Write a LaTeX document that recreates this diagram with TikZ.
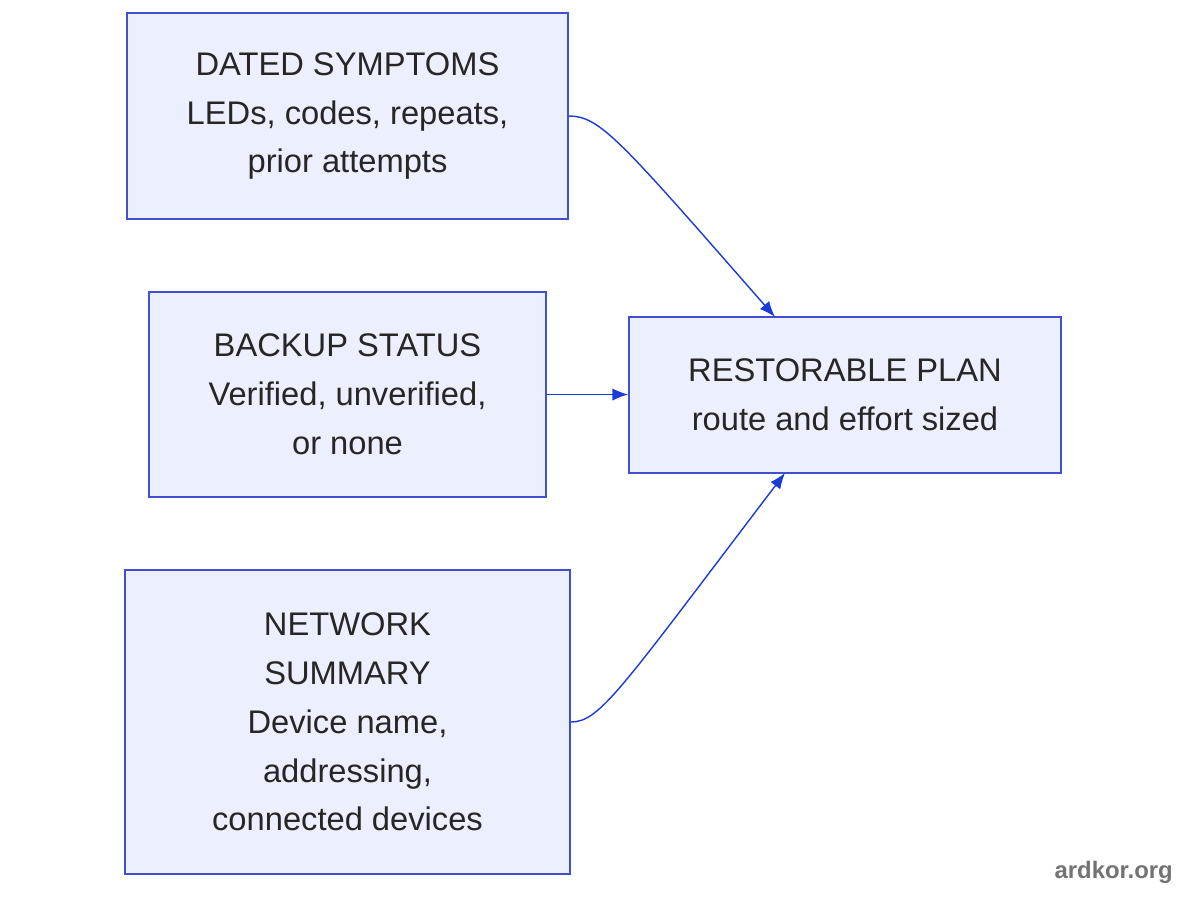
\documentclass[tikz,border=0pt]{standalone}
\usepackage{fontspec}
\setmainfont{Liberation Sans}
\usetikzlibrary{arrows.meta}
\definecolor{boxfill}{HTML}{ECEFFD}
\definecolor{boxline}{HTML}{3F4FD0}
\definecolor{edge}{HTML}{1B3BD8}
\begin{document}
\begin{tikzpicture}[x=0.02cm,y=-0.02cm,
  box/.style={draw=boxline,fill=boxfill,line width=0.9pt,align=center,inner sep=0pt,
    font=\fontsize{18.6}{27.8}\selectfont,text=black!85},
  conn/.style={draw=edge,line width=0.8pt,-{Latex[length=9pt,width=7pt]}}]
\useasboundingbox (0,0) rectangle (1200,900);
\node[box,minimum width=441*0.02cm,minimum height=206*0.02cm] (a) at (347.5,116) {DATED SYMPTOMS\\LEDs, codes, repeats,\\prior attempts};
\node[box,minimum width=397*0.02cm,minimum height=205*0.02cm] (b) at (347.5,394.5) {BACKUP STATUS\\Verified, unverified,\\or none};
\node[box,minimum width=445*0.02cm,minimum height=304*0.02cm] (c) at (347.5,722) {NETWORK\\ SUMMARY\\Device name,\\ addressing,\\connected devices};
\node[box,minimum width=432*0.02cm,minimum height=156*0.02cm] (r) at (845,395) {RESTORABLE PLAN\\route and effort sized};
\coordinate (rt) at (775,317);
\coordinate (rb) at (785,473);
\draw[conn] (a.east) .. controls (600,116) and (620,140) .. (rt);
\draw[conn] (b.east) -- (b.east -| r.west);
\draw[conn] (c.east) .. controls (600,722) and (620,690) .. (rb);
\node[anchor=east,text=black!55,font=\bfseries\fontsize{13.6}{16}\selectfont] (w) at (1179,872) {ardkor.org};
\end{tikzpicture}
\end{document}
